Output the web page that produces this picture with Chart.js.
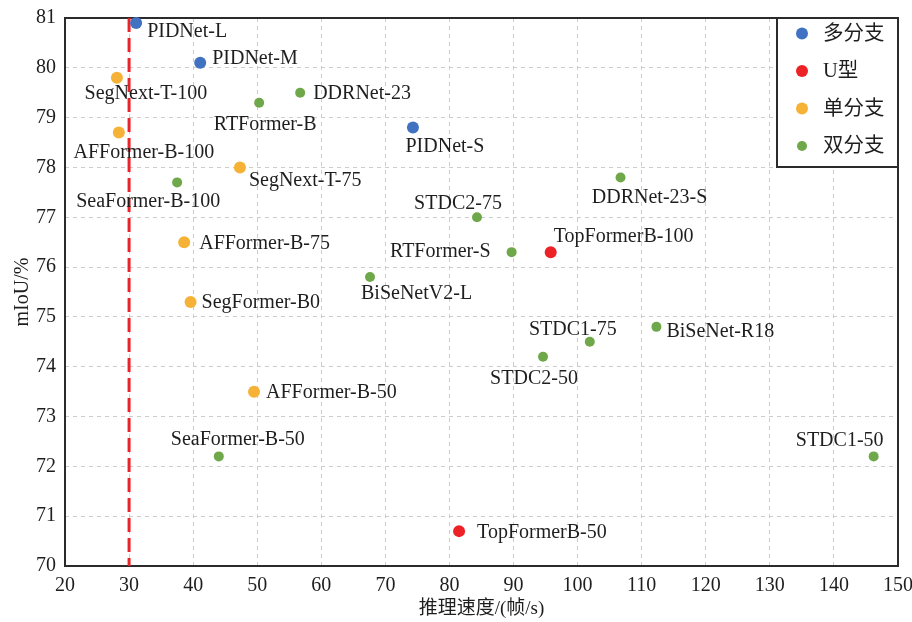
<!DOCTYPE html>
<html>
<head>
<meta charset="utf-8">
<script src="https://cdn.jsdelivr.net/npm/chart.js@4.4.0/dist/chart.umd.min.js"></script>
<style>
    html, body { margin: 0; padding: 0; background: #fff; }
    #wrap { width: 912px; height: 622px; position: relative; }
</style>
</head>
<body>
<div id="wrap"><canvas id="fpsChart"></canvas></div>
<script>
// 多分支
const multiNames = ['PIDNet-L', 'PIDNet-M', 'PIDNet-S'];
const multiFps = [31.1, 41.1, 74.3];
const multiMiou = [80.9, 80.1, 78.8];

// U型
const uNames = ['TopFormerB-100', 'TopFormerB-50'];
const uFps = [95.8, 81.5];
const uMiou = [76.3, 70.7];

// 单分支
const singleNames = ['SegNext-T-100', 'AFFormer-B-100', 'SegNext-T-75', 'AFFormer-B-75', 'SegFormer-B0', 'AFFormer-B-50'];
const singleFps = [28.1, 28.4, 47.3, 38.6, 39.6, 49.5];
const singleMiou = [79.8, 78.7, 78.0, 76.5, 75.3, 73.5];

// 双分支
const dualNames = ['DDRNet-23', 'RTFormer-B', 'SeaFormer-B-100', 'DDRNet-23-S', 'STDC2-75', 'RTFormer-S',
    'BiSeNetV2-L', 'STDC1-75', 'BiSeNet-R18', 'STDC2-50', 'STDC1-50', 'SeaFormer-B-50'];
const dualFps = [56.7, 50.3, 37.5, 106.7, 84.3, 89.7, 67.6, 101.9, 112.3, 94.6, 146.2, 44.0];
const dualMiou = [79.5, 79.3, 77.7, 77.8, 77.0, 76.3, 75.8, 74.5, 74.8, 74.2, 72.2, 72.2];

const xTicks = [20, 30, 40, 50, 60, 70, 80, 90, 100, 110, 120, 130, 140, 150];
const yTicks = [70, 71, 72, 73, 74, 75, 76, 77, 78, 79, 80, 81];
const realTimeFps = 30;

// label placement next to each point: [dx, dy, align]
const labelPlacement = {
    'PIDNet-L': [11, 9, 'left'],
    'PIDNet-M': [12, -4, 'left'],
    'PIDNet-S': [32, 19, 'center'],
    'TopFormerB-100': [3, -15, 'left'],
    'TopFormerB-50': [18, 2, 'left'],
    'SegNext-T-100': [29, 16, 'center'],
    'AFFormer-B-100': [25, 20, 'center'],
    'SegNext-T-75': [9, 13, 'left'],
    'AFFormer-B-75': [15, 2, 'left'],
    'SegFormer-B0': [11, 1, 'left'],
    'AFFormer-B-50': [12, 1, 'left'],
    'DDRNet-23': [13, 1, 'left'],
    'RTFormer-B': [6, 22, 'center'],
    'SeaFormer-B-100': [-29, 19, 'center'],
    'DDRNet-23-S': [29, 20, 'center'],
    'STDC2-75': [-19, -14, 'center'],
    'RTFormer-S': [-21, 0, 'right'],
    'BiSeNetV2-L': [-9, 17, 'left'],
    'STDC1-75': [-17, -12, 'center'],
    'BiSeNet-R18': [10, 5, 'left'],
    'STDC2-50': [-9, 22, 'center'],
    'STDC1-50': [-34, -16, 'center'],
    'SeaFormer-B-50': [19, -17, 'center']
};

const FONT = '"Liberation Serif", "Noto Sans CJK SC", serif';
const TEXT = '#1e1e1e';

function toPoints(xs, ys) {
    return xs.map((v, i) => ({ x: v, y: ys[i] }));
}

const annotatePlugin = {
    id: 'annotate',
    beforeDatasetsDraw(chart) {
        const { ctx, chartArea: a, scales: { x } } = chart;
        ctx.save();
        // frame
        ctx.strokeStyle = '#2b2b2b';
        ctx.lineWidth = 2;
        ctx.strokeRect(a.left, a.top, a.right - a.left, a.bottom - a.top);
        // 30 fps line
        const px = x.getPixelForValue(realTimeFps);
        ctx.strokeStyle = '#e8242a';
        ctx.lineWidth = 3;
        ctx.setLineDash([14, 6]);
        ctx.beginPath();
        ctx.moveTo(px, a.top);
        ctx.lineTo(px, a.bottom);
        ctx.stroke();
        ctx.restore();
    },
    afterDatasetsDraw(chart) {
        const { ctx, chartArea: a } = chart;
        ctx.save();
        ctx.font = '20px ' + FONT;
        ctx.fillStyle = TEXT;
        ctx.textBaseline = 'middle';
        chart.data.datasets.forEach((ds, i) => {
            chart.getDatasetMeta(i).data.forEach((pt, j) => {
                const name = ds.names[j];
                const [dx, dy, align] = labelPlacement[name];
                ctx.textAlign = align;
                ctx.fillText(name, pt.x + dx, pt.y + dy);
            });
        });

        // legend box
        const boxW = 121, rowH = 37.5;
        const bx = a.right - boxW, by = a.top;
        const bh = rowH * chart.data.datasets.length - 1;
        ctx.fillStyle = '#fff';
        ctx.fillRect(bx, by, boxW, bh);
        ctx.strokeStyle = '#2b2b2b';
        ctx.lineWidth = 2;
        ctx.strokeRect(bx, by, boxW, bh);
        ctx.font = '20.5px ' + FONT;
        ctx.textAlign = 'left';
        chart.data.datasets.forEach((ds, i) => {
            const cy = by + 15.5 + i * rowH;
            ctx.fillStyle = ds.backgroundColor;
            ctx.beginPath();
            ctx.arc(bx + 25, cy, ds.pointRadius, 0, Math.PI * 2);
            ctx.fill();
            ctx.fillStyle = TEXT;
            ctx.fillText(ds.label, bx + 46, cy + 1);
        });
        ctx.restore();
    }
};

document.addEventListener('DOMContentLoaded', function() {
    const ctx = document.getElementById('fpsChart');

    const makeSet = (label, names, xs, ys, color, r) => ({
        label: label,
        names: names,
        data: toPoints(xs, ys),
        backgroundColor: color,
        borderWidth: 0,
        pointRadius: r,
        pointHoverRadius: r,
        clip: false
    });

    new Chart(ctx, {
        type: 'scatter',
        data: {
            datasets: [
                makeSet('多分支', multiNames, multiFps, multiMiou, '#4172c2', 6),
                makeSet('U型', uNames, uFps, uMiou, '#ec2227', 6),
                makeSet('单分支', singleNames, singleFps, singleMiou, '#f6b236', 6),
                makeSet('双分支', dualNames, dualFps, dualMiou, '#6fa84a', 5)
            ]
        },
        options: {
            responsive: true,
            maintainAspectRatio: false,
            animation: false,
            layout: {
                padding: { left: 0, top: 18, right: 14, bottom: 0 }
            },
            plugins: {
                legend: { display: false },
                tooltip: { enabled: false }
            },
            scales: {
                x: {
                    type: 'linear',
                    min: xTicks[0],
                    max: xTicks[xTicks.length - 1],
                    afterBuildTicks: function(scale) {
                        scale.ticks = xTicks.map(v => ({ value: v }));
                    },
                    afterFit: function(scale) {
                        scale.height = 56;
                        scale.paddingLeft = 0;
                        scale.paddingRight = 0;
                    },
                    grid: {
                        color: '#cccccc',
                        lineWidth: 1,
                        drawTicks: false
                    },
                    border: { display: false, dash: [4, 4] },
                    ticks: {
                        color: TEXT,
                        padding: 8,
                        maxRotation: 0,
                        font: { family: FONT, size: 20 }
                    },
                    title: {
                        display: true,
                        text: '推理速度/(帧/s)',
                        color: TEXT,
                        padding: { top: 0, bottom: 2 },
                        font: { family: FONT, size: 19 }
                    }
                },
                y: {
                    type: 'linear',
                    min: yTicks[0],
                    max: yTicks[yTicks.length - 1],
                    afterBuildTicks: function(scale) {
                        scale.ticks = yTicks.map(v => ({ value: v }));
                    },
                    afterFit: function(scale) {
                        scale.width = 65;
                        scale.paddingTop = 0;
                        scale.paddingBottom = 0;
                    },
                    grid: {
                        color: '#cccccc',
                        lineWidth: 1,
                        drawTicks: false
                    },
                    border: { display: false, dash: [4, 4] },
                    ticks: {
                        color: TEXT,
                        padding: 9,
                        font: { family: FONT, size: 20 }
                    },
                    title: {
                        display: true,
                        text: 'mIoU/%',
                        color: TEXT,
                        padding: { top: 11, bottom: 0 },
                        font: { family: FONT, size: 20 }
                    }
                }
            }
        },
        plugins: [annotatePlugin]
    });
});
</script>
</body>
</html>
